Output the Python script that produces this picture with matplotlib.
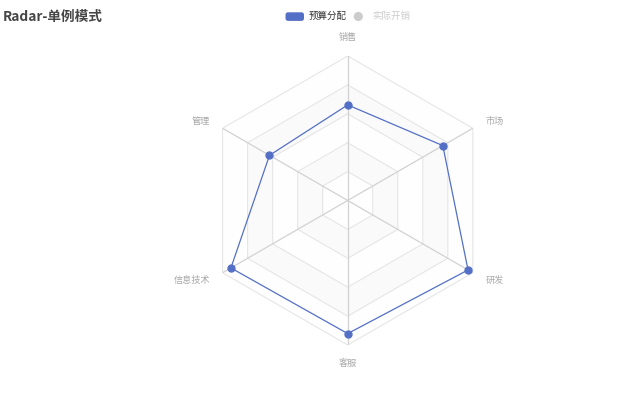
import numpy as np
import matplotlib
matplotlib.use("Agg")
from matplotlib import pyplot as plt
from matplotlib.patches import FancyBboxPatch, Circle

plt.rcParams["font.family"] = ["Noto Sans CJK SC", "DejaVu Sans"]

# indicators, counter-clockwise starting at the top
indicators = ["销售", "管理", "信息技术", "客服", "研发", "市场"]
indicator_max = [6500, 16000, 30000, 38000, 52000, 25000]
budget_values = [4300, 10000, 28000, 35000, 50000, 19000]

legend_names = ["预算分配", "实际开销"]
title = "Radar-单例模式"

BLUE = "#5470c6"
W, H = 640, 409
cx, cy, R = 347.7, 200.5, 144.5

fig = plt.figure(figsize=(W / 100, H / 100), dpi=100)

ax = fig.add_axes([(cx - R) / W, (H - cy - R) / H, 2 * R / W, 2 * R / H], projection="polar")
ax.set_theta_offset(np.pi / 2)
ax.set_ylim(0, 1)
ax.axis("off")

n = len(indicators)
theta = np.arange(n) * 2 * np.pi / n
theta_c = np.append(theta, theta[0])

# split areas + split lines (very faint in the reference)
levels = [0.2, 0.4, 0.6, 0.8, 1.0]
area_cols = ["#fefefe", "#fafafa"]
prev = 0.0
for i, lv in enumerate(levels):
    ax.fill_between(theta_c, prev, lv, color=area_cols[i % 2], lw=0, zorder=0)
    prev = lv
for lv in levels:
    ax.plot(theta_c, [lv] * (n + 1), color="#e6e6e6", lw=0.8, zorder=1)
for t in theta:
    ax.plot([t, t], [0, 1], color="#d2d2d2", lw=0.9, zorder=1)

# series
norm = np.array(budget_values) / np.array(indicator_max)
norm_c = np.append(norm, norm[0])
ax.plot(theta_c, norm_c, color=BLUE, lw=0.9, zorder=3)
ax.plot(theta, norm, "o", color=BLUE, ms=5, zorder=4)

# indicator names
for t, name in zip(theta, indicators):
    s = -np.sin(t)
    if abs(s) < 1e-6:
        ha, r = "center", 1.125
    elif s > 0:
        ha, r = "left", 1.1
    else:
        ha, r = "right", 1.1
    ax.text(t, r, name, ha=ha, va="center", fontsize=6.6, color="#a8a8a8")

# title and legend in pixel coordinates
ov = fig.add_axes([0, 0, 1, 1], zorder=10)
ov.set_xlim(0, W)
ov.set_ylim(H, 0)
ov.axis("off")
ov.patch.set_alpha(0)

ov.text(3, 17, title, fontsize=9.8, fontweight="bold", color="#464646", ha="left", va="center")

ov.add_patch(FancyBboxPatch((285.5, 12.3), 18.5, 8.6, boxstyle="round,pad=0,rounding_size=2.5",
                            fc=BLUE, ec="none"))
ov.text(309, 16.5, legend_names[0], fontsize=6.8, color="#333333", ha="left", va="center")
ov.add_patch(Circle((358.3, 16.5), 4.6, fc="#cccccc", ec="none"))
ov.text(372, 16.5, legend_names[1], fontsize=6.8, color="#cccccc", ha="left", va="center")

fig.savefig("out.png", dpi=100, facecolor="white")
